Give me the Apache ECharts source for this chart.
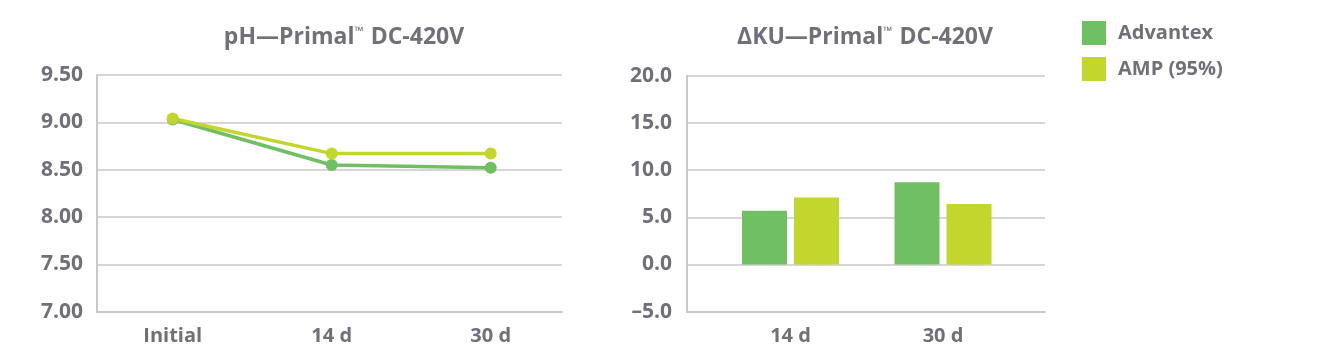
<!DOCTYPE html>
<html>
<head>
<meta charset="utf-8">
<script src="https://cdn.jsdelivr.net/npm/echarts@6/dist/echarts.min.js"></script>
<style>
html,body{margin:0;padding:0;background:#fff;}
#chart{width:1322px;height:358px;}
</style>
</head>
<body>
<div id="chart"></div>
<script>
// ---- data ----
const seriesNames = ['Advantex', 'AMP (95%)'];
const phCategories = ['Initial', '14 d', '30 d'];
const phAdvantex = [9.03, 8.55, 8.52];
const phAMP = [9.04, 8.67, 8.67];
const kuCategories = ['14 d', '30 d'];
const kuAdvantex = [5.7, 8.7];
const kuAMP = [7.1, 6.4];
const phTitleParts = ['pH\u2014Primal', '\u2122', ' DC-420V'];
const kuTitleParts = ['\u0394KU\u2014Primal', '\u2122', ' DC-420V'];
const phRange = [7, 9.5, 0.5];
const kuRange = [-5, 20, 5];

// ---- style ----
const FONT = '"Open Sans", "Noto Sans", sans-serif';
const TXT = '#6f7078';
const LINE = '#c9c9c9';
const GREEN = '#71bf63';
const LIME = '#c2d62e';

const chart = echarts.init(document.getElementById('chart'), null, {renderer: 'canvas'});

const yLabelStyle = {color: TXT, fontFamily: FONT, fontWeight: 'bold', fontSize: 21};
const xLabelStyle = {color: TXT, fontFamily: FONT, fontWeight: 'bold', fontSize: 20};

function titleGraphic(parts, x) {
  return {
    type: 'text', x: x, y: 37,
    style: {
      text: '{a|' + parts[0] + '}{tm|' + parts[1] + '}{a|' + parts[2] + '}',
      textAlign: 'center', textVerticalAlign: 'middle',
      rich: {
        a: {fill: TXT, fontFamily: FONT, fontWeight: 'bold', fontSize: 23, lineHeight: 28},
        tm: {fill: TXT, fontFamily: FONT, fontWeight: 'bold', fontSize: 12, lineHeight: 14, verticalAlign: 'top', padding: [3, 1, 0, 0]}
      }
    }
  };
}

const option = {
  animation: false,
  textStyle: {fontFamily: FONT},
  graphic: [titleGraphic(phTitleParts, 344), titleGraphic(kuTitleParts, 865)],
  legend: {
    data: seriesNames,
    orient: 'vertical',
    left: 1082, top: 21,
    padding: 0,
    itemWidth: 24, itemHeight: 24, itemGap: 12,
    icon: 'rect',
    selectedMode: false,
    textStyle: {color: TXT, fontFamily: FONT, fontWeight: 'bold', fontSize: 20, padding: [0, 0, 0, 7]}
  },
  grid: [
    {left: 97, top: 75, width: 465, height: 236.7},
    {left: 93.2, top: 75, width: 477, height: 236.7},
    {left: 687, top: 75.7, width: 358, height: 236},
    {left: 714.25, top: 75.7, width: 305, height: 236}
  ],
  xAxis: [
    {gridIndex: 0, type: 'category', data: phCategories, axisLine: {onZero: false, lineStyle: {color: LINE, width: 2}}, axisTick: {show: false}, axisLabel: {show: false}, splitLine: {show: false}},
    {gridIndex: 1, type: 'category', data: phCategories, boundaryGap: true, axisLine: {show: false, onZero: false}, axisTick: {show: false}, axisLabel: Object.assign({margin: 15}, xLabelStyle), splitLine: {show: false}},
    {gridIndex: 2, type: 'category', data: kuCategories, axisLine: {onZero: false, lineStyle: {color: LINE, width: 2}}, axisTick: {show: false}, axisLabel: {show: false}, splitLine: {show: false}},
    {gridIndex: 3, type: 'category', data: kuCategories, boundaryGap: true, axisLine: {show: false, onZero: false}, axisTick: {show: false}, axisLabel: Object.assign({margin: 15}, xLabelStyle), splitLine: {show: false}}
  ],
  yAxis: [
    {gridIndex: 0, type: 'value', min: phRange[0], max: phRange[1], interval: phRange[2],
     axisLine: {show: true, lineStyle: {color: LINE, width: 2}}, axisTick: {show: false},
     axisLabel: Object.assign({margin: 14, formatter: v => v.toFixed(2)}, yLabelStyle),
     splitLine: {lineStyle: {color: LINE, width: 1.5}}},
    {gridIndex: 1, type: 'value', min: phRange[0], max: phRange[1], show: false},
    {gridIndex: 2, type: 'value', min: kuRange[0], max: kuRange[1], interval: kuRange[2],
     axisLine: {show: true, lineStyle: {color: LINE, width: 2}}, axisTick: {show: false},
     axisLabel: Object.assign({margin: 15, formatter: v => v.toFixed(1).replace('-', '\u2013')}, yLabelStyle),
     splitLine: {lineStyle: {color: LINE, width: 1.5}}},
    {gridIndex: 3, type: 'value', min: kuRange[0], max: kuRange[1], show: false}
  ],
  series: [
    {name: seriesNames[0], type: 'line', xAxisIndex: 1, yAxisIndex: 1, data: phAdvantex,
     symbol: 'circle', symbolSize: 12, color: GREEN, lineStyle: {width: 3.5, color: GREEN}, itemStyle: {color: GREEN}, emphasis: {disabled: true}},
    {name: seriesNames[1], type: 'line', xAxisIndex: 1, yAxisIndex: 1, data: phAMP,
     symbol: 'circle', symbolSize: 12, color: LIME, lineStyle: {width: 3.5, color: LIME}, itemStyle: {color: LIME}, emphasis: {disabled: true}},
    {name: seriesNames[0], type: 'bar', xAxisIndex: 3, yAxisIndex: 3, data: kuAdvantex,
     barWidth: 45, barGap: '15.6%', itemStyle: {color: GREEN}, emphasis: {disabled: true}},
    {name: seriesNames[1], type: 'bar', xAxisIndex: 3, yAxisIndex: 3, data: kuAMP,
     barWidth: 45, barGap: '15.6%', itemStyle: {color: LIME}, emphasis: {disabled: true}}
  ]
};
chart.setOption(option);
</script>
</body>
</html>
